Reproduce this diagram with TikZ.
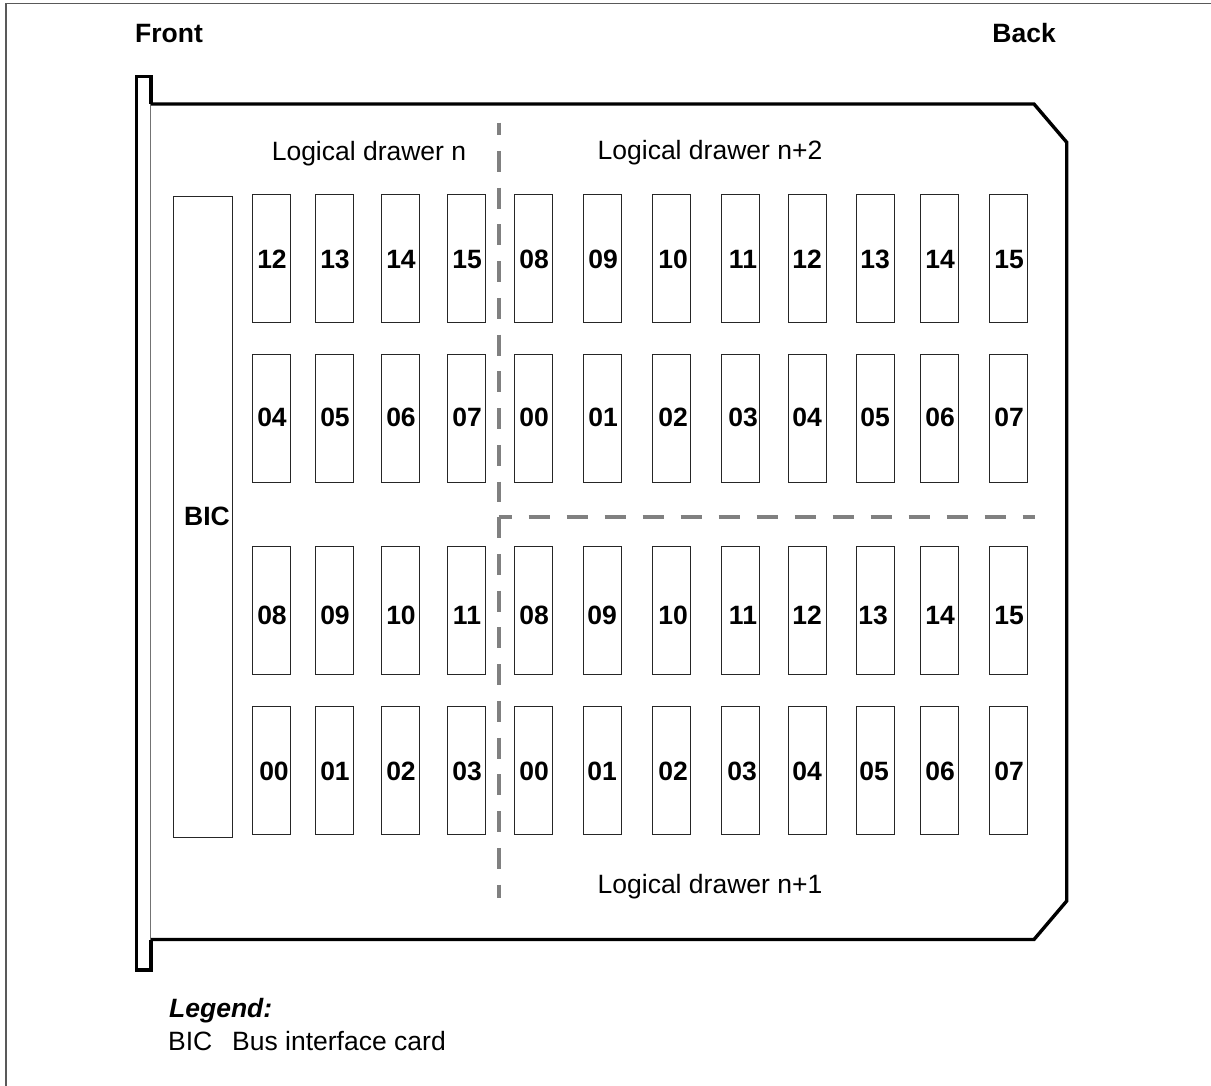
\documentclass[tikz,border=0pt]{standalone}
\usepackage{fontspec}
\setmainfont{Liberation Sans}
\tikzset{
  x=1pt,y=-1pt,
  slotbox/.style={draw=black!85,line width=1pt,outer sep=0pt,minimum width=38pt,minimum height=128pt,inner sep=0pt,anchor=north west,xshift=0.3pt},
  slotnum/.style={font=\fontsize{26.5}{28}\selectfont\bfseries,inner sep=0pt,anchor=base},
  plain/.style={font=\fontsize{26.5}{28}\selectfont,inner sep=0pt,anchor=base},
  heavy/.style={draw=black,line width=3.4pt,line join=miter},
  divider/.style={draw=black!50,line width=4pt},
}
\begin{document}
\begin{tikzpicture}
\useasboundingbox (0,0) rectangle (1211,1086);
\draw[line width=1.4pt,draw=black!65] (6,1086) -- (6,3.8) -- (1211,3.8);
\node[slotnum,anchor=base west] (front) at (135,42.5) {Front};
\node[slotnum,anchor=base east] (back) at (1056,42.5) {Back};
% card outline
\draw[black!55,line width=1.2pt] (150.6,104) -- (150.6,940);
\draw[heavy] (150.8,104) -- (1034,104) -- (1066.7,142.3) -- (1066.7,901) -- (1034,939.5) -- (150.8,939.5);
\draw[heavy] (150.8,104) -- (150.8,76.3) -- (136.3,76.3) -- (136.3,970) -- (150.8,970) -- (150.8,939.5);
% dividers
\coordinate (vtop) at (498.5,122.7);
\coordinate (vbot) at (498.5,502);
\coordinate (corner) at (498.5,517);
\coordinate (vend) at (498.5,898);
\coordinate (hend) at (1035,517);
\draw[divider,dash pattern=on 12.5pt off 15.75pt on 21pt off 15.75pt on 21pt off 15.75pt on 21pt off 15.75pt on 21pt off 15.75pt on 21pt off 15.75pt on 21pt off 15.75pt on 21pt off 15.75pt on 21pt off 15.75pt on 21pt off 15.75pt on 21pt off 15.75pt] (vtop) -- (vbot);
\draw[divider,dash pattern=on 21pt off 15.75pt] (corner) -- (vend);
\draw[divider,dash pattern=on 13pt off 17pt on 21pt off 17pt on 21pt off 17pt on 21pt off 17pt on 21pt off 17pt on 21pt off 17pt on 21pt off 17pt on 21pt off 17pt on 21pt off 17pt on 21pt off 17pt on 21pt off 17pt on 21pt off 17pt on 21pt off 17pt on 21pt off 17pt] (corner) -- (hend);
% BIC
\node[draw=black!85,line width=1pt,outer sep=0pt,minimum width=59pt,minimum height=641pt,inner sep=0pt,anchor=north west] (bic) at (173.5,196.3) {};
\node[slotnum] (biclabel) at (207,525.5) {BIC};
\foreach \rowname/\ytop/\ytext/\items in {
  a/194.3/268.5/{252/12/272,315/13/335,381/14/401,447/15/467,514/08/534,583/09/603,652/10/673,721/11/743,788/12/807,856/13/875,920/14/940,989/15/1009},
  b/354.3/426.5/{252/04/272,315/05/335,381/06/401,447/07/467,514/00/534,583/01/603,652/02/673,721/03/743,788/04/807,856/05/875,920/06/940,989/07/1009},
  c/546.3/624.5/{252/08/272,315/09/335,381/10/401,447/11/467,514/08/534,583/09/602,652/10/673,721/11/743,788/12/807,856/13/873,920/14/940,989/15/1009},
  d/706.3/780.5/{252/00/274,315/01/335,381/02/401,447/03/467,514/00/534,583/01/602,652/02/673,721/03/742,788/04/807,856/05/874,920/06/940,989/07/1009}}{
  \foreach \sx/\num/\tx in \items {
    \node[slotbox] (slot\rowname\sx) at (\sx,\ytop) {};
    \node[slotnum] (num\rowname\sx) at (\tx,\ytext) {\num};
  }
}
% labels
\node[plain] (ldn) at (369,161) {Logical drawer n};
\node[plain] (ldn2) at (710,160) {Logical drawer n+2};
\node[plain] (ldn1) at (710,893) {Logical drawer n+1};
% legend
\node[plain,font=\fontsize{26.5}{28}\selectfont\bfseries\itshape,anchor=base west] (legend) at (169,1017.7) {Legend:};
\node[plain,anchor=base west] (bickey) at (168,1050) {BIC};
\node[plain,anchor=base west] (bicdesc) at (232,1050) {Bus interface card};
\end{tikzpicture}
\end{document}
